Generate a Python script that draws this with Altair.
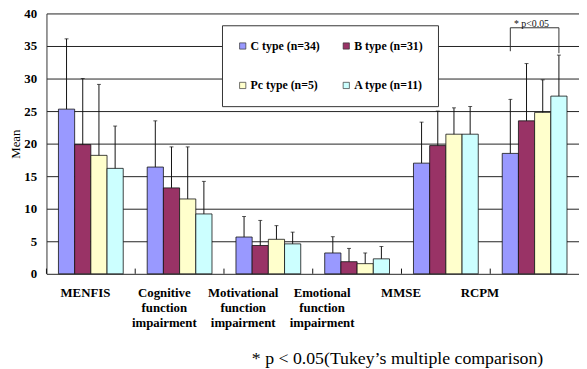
import altair as alt
import pandas as pd

# ---- data ----
cat_keys = ["MENFIS", "Cognitive", "Motivational", "Emotional", "MMSE", "RCPM"]
cat_labels = ["MENFIS", "Cognitive|function|impairment", "Motivational|function|impairment",
              "Emotional|function|impairment", "MMSE", "RCPM"]
types = ["C type (n=34)", "B type (n=31)", "Pc type (n=5)", "A type (n=11)"]
colors = ["#9999FF", "#993366", "#FFFFCC", "#CCFFFF"]
y_ticks = [0, 5, 10, 15, 20, 25, 30, 35, 40]

mean_C = [25.3, 16.4, 5.65, 3.2, 17.0, 18.5]
mean_B = [19.85, 13.2, 4.35, 1.86, 19.7, 23.5]
mean_Pc = [18.2, 11.5, 5.3, 1.56, 21.45, 24.8]
mean_A = [16.2, 9.2, 4.6, 2.3, 21.45, 27.3]

sd_C = [10.8, 7.1, 3.15, 2.5, 6.3, 8.3]
sd_B = [10.15, 6.3, 3.85, 2.04, 5.3, 8.8]
sd_Pc = [10.9, 8.0, 2.1, 1.64, 4.05, 5.0]
sd_A = [6.5, 5.0, 1.8, 1.9, 4.25, 6.3]

# significance bracket (RCPM: C type vs A type)
sig_types = ["C type (n=34)", "C type (n=34)", "A type (n=11)", "A type (n=11)"]
sig_y = [34.2, 37.8, 37.8, 33.9]
sig_text = "* p<0.05"
footnote = "* p < 0.05(Tukey\u2019s multiple comparison)"

rows = []
for t, m, s in zip(types, [mean_C, mean_B, mean_Pc, mean_A], [sd_C, sd_B, sd_Pc, sd_A]):
    for c, mv, sv in zip(cat_keys, m, s):
        rows.append({"cat": c, "type": t, "mean": mv, "upper": mv + sv})
df = pd.DataFrame(rows)

sig_df = pd.DataFrame({"cat": ["RCPM"] * 4, "type": sig_types, "y": sig_y, "order": [0, 1, 2, 3]})
sig_txt_df = pd.DataFrame({"cat": ["RCPM"], "type": ["B type (n=31)"], "y": [37.8], "t": [sig_text]})
cat_df = pd.DataFrame({"cat": cat_keys, "lab": cat_labels})

SERIF = "Liberation Serif"

xs = alt.Scale(domain=cat_keys, paddingInner=0, paddingOuter=0)
xo = alt.Scale(domain=types, paddingInner=0, paddingOuter=0.74)
ys = alt.Scale(domain=[0, 40], nice=False)
yax = alt.Axis(values=y_ticks, title="Mean")

X = alt.X("cat:N", scale=xs, axis=None, sort=cat_keys)
XO = alt.XOffset("type:N", scale=xo, sort=types)

base = alt.Chart(df)

bars = base.mark_bar(stroke="#111", strokeWidth=0.8).encode(
    x=X, xOffset=XO,
    y=alt.Y("mean:Q", scale=ys, axis=yax),
    color=alt.Color("type:N", scale=alt.Scale(domain=types, range=colors), sort=types,
                    legend=alt.Legend(title=None)),
)

stems = base.mark_rule(color="#111", strokeWidth=1).encode(
    x=X, xOffset=XO,
    y=alt.Y("mean:Q", scale=ys, axis=yax),
    y2="upper:Q",
)

caps = base.mark_tick(color="#111", thickness=1, size=4).encode(
    x=X, xOffset=XO,
    y=alt.Y("upper:Q", scale=ys, axis=yax),
)

dividers = alt.Chart(cat_df).mark_rule(color="#111", strokeWidth=1).encode(
    x=alt.X("cat:N", scale=xs, axis=None, sort=cat_keys, bandPosition=0),
    y=alt.datum(0, scale=ys, axis=yax),
    y2=alt.datum(0.8),
)

bracket = alt.Chart(sig_df).mark_line(color="#333", strokeWidth=1, xOffset=-3).encode(
    x=X, xOffset=XO,
    y=alt.Y("y:Q", scale=ys, axis=yax),
    order="order:Q",
)

sig_label = alt.Chart(sig_txt_df).mark_text(font=SERIF, fontSize=10, baseline="bottom",
                                             align="center", dy=1, dx=5, color="#111").encode(
    x=X, xOffset=XO,
    y=alt.Y("y:Q", scale=ys, axis=yax),
    text="t:N",
)

main = alt.layer(bars, stems, caps, dividers, bracket, sig_label)

labels = alt.Chart(cat_df).mark_point(opacity=0).encode(
    x=alt.X("lab:N", sort=cat_labels,
            scale=alt.Scale(domain=cat_labels, range=[-1, 479], paddingInner=0, paddingOuter=0),
            axis=alt.Axis(title=None, labelExpr="split(datum.label, '|')", labelLineHeight=15,
                          labelFont=SERIF, labelFontWeight="bold", labelFontSize=13,
                          labelColor="#000", labelPadding=13, labelAngle=0,
                          domain=False, ticks=False, grid=False, orient="bottom")),
    y=alt.datum(0, scale=ys, axis=yax),
)

chart = alt.layer(main, labels).resolve_scale(x="independent").properties(
    width=540, height=264, autosize="none",
    padding={"left": 39, "top": 3, "right": 0, "bottom": 94},
    title=alt.TitleParams(footnote, orient="bottom", anchor="middle", dx=86, offset=21,
                          font=SERIF, fontSize=18, fontWeight="normal", color="#000"),
).configure_view(stroke=None).configure_axisY(
    grid=True, gridColor="#222", gridWidth=1, domain=True, domainColor="#333", ticks=False,
    labelFont=SERIF, labelFontWeight="bold", labelFontSize=13, labelColor="#000", labelPadding=10,
    titleFont=SERIF, titleFontWeight="normal", titleFontSize=13, titleColor="#000", titlePadding=1,
).configure_legend(
    orient="none", legendX=178, legendY=12, columns=2, direction="horizontal",
    padding=15, rowPadding=28, columnPadding=20,
    strokeColor="#333", fillColor="white", symbolType="square", symbolSize=40,
    symbolStrokeColor="#333", symbolStrokeWidth=0.7, labelFont=SERIF, labelFontWeight="bold",
    labelFontSize=12, labelColor="#000", labelOffset=2,
)

chart.save("out.html", embed_options={"renderer": "svg", "actions": False})
